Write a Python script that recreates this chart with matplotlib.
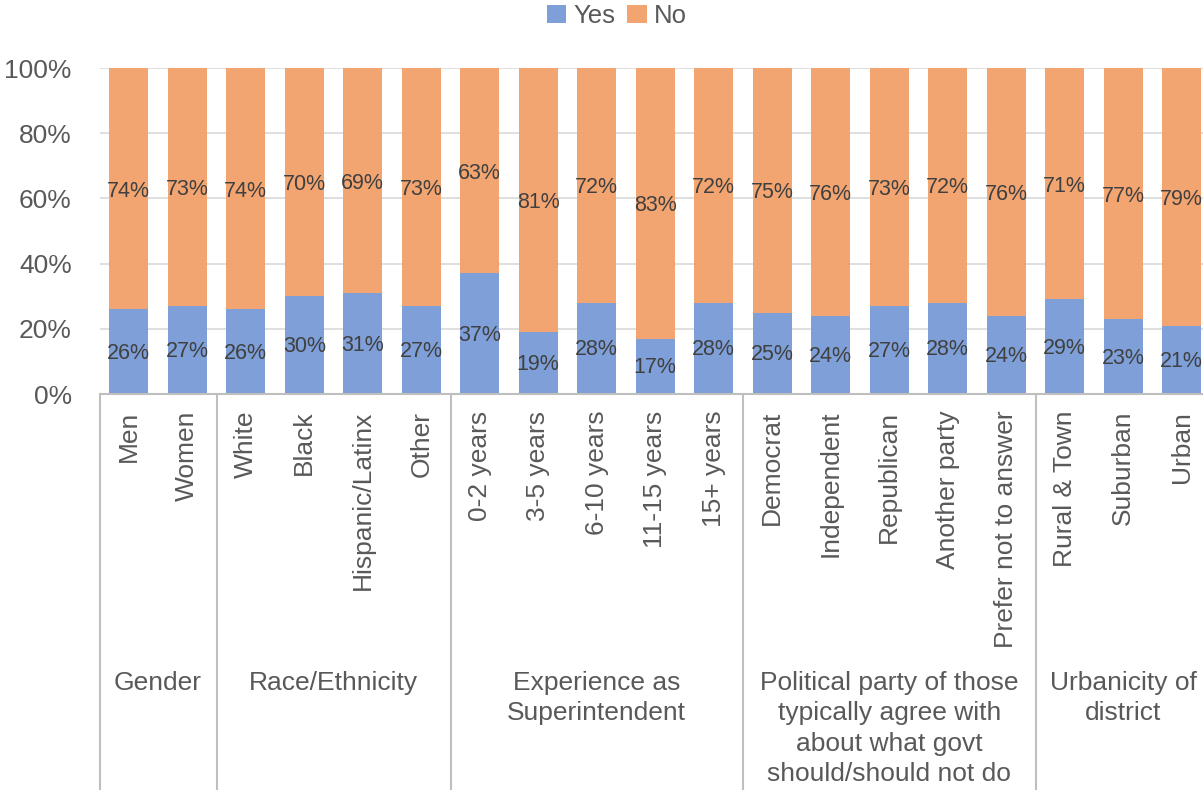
import matplotlib
matplotlib.use("Agg")
import matplotlib.pyplot as plt
import matplotlib.transforms as mtransforms

categories = ["Men", "Women", "White", "Black", "Hispanic/Latinx", "Other",
              "0-2 years", "3-5 years", "6-10 years", "11-15 years", "15+ years",
              "Democrat", "Independent", "Republican", "Another party", "Prefer not to answer",
              "Rural & Town", "Suburban", "Urban"]
yes_vals = [26, 27, 26, 30, 31, 27, 37, 19, 28, 17, 28, 25, 24, 27, 28, 24, 29, 23, 21]
no_vals = [74, 73, 74, 70, 69, 73, 63, 81, 72, 83, 72, 75, 76, 73, 72, 76, 71, 77, 79]
groups = ["Gender", "Race/Ethnicity", "Experience as\nSuperintendent",
          "Political party of those\ntypically agree with\nabout what govt\nshould/should not do",
          "Urbanicity of\ndistrict"]
group_sizes = [2, 4, 5, 5, 3]
yticks = [0, 20, 40, 60, 80, 100]

plt.rcParams['font.family'] = ['Liberation Sans', 'DejaVu Sans']
W, H = 1203, 790
fig = plt.figure(figsize=(W / 100, H / 100), dpi=100)
left_px, right_px, top_px, bot_px = 99.5, 1211, 68, 394
ax = fig.add_axes([left_px / W, 1 - bot_px / H, (right_px - left_px) / W, (bot_px - top_px) / H])

blue = "#7A9CD6"
orange = "#F2A26C"
txt = "#595959"
lab = "#404040"
x = list(range(len(categories)))
ax.bar(x, yes_vals, width=0.66, color=blue, label="Yes", zorder=2, alpha=0.97)
ax.bar(x, no_vals, width=0.66, bottom=yes_vals, color=orange, label="No", zorder=2, alpha=0.97)
for i, (y, n) in enumerate(zip(yes_vals, no_vals)):
    ax.text(i, y / 2 - 0.5, f"{y}%", ha="center", va="center", fontsize=15.5, color=lab, zorder=3)
    ax.text(i, y + n / 2 - 0.8, f"{n}%", ha="center", va="center", fontsize=15.5, color=lab, zorder=3)

ax.set_xlim(-0.5, len(categories) - 0.5)
ax.set_ylim(0, 100)
ax.set_yticks(yticks)
ax.set_yticklabels([f"{t}%" for t in yticks], fontsize=19, color=txt)
ax.tick_params(axis="y", length=0, pad=20)
ax.yaxis.grid(True, color="#D9D9D9", linewidth=1.2, zorder=0)
ax.set_axisbelow(True)
for s in ["top", "right", "left"]:
    ax.spines[s].set_visible(False)
ax.spines["bottom"].set_color("#BFBFBF")
ax.spines["bottom"].set_linewidth(1.5)
ax.spines["bottom"].set_zorder(4)

ax.set_xticks(x)
ax.set_xticklabels(categories, rotation=90, fontsize=19, color=txt, va="top", ha="center")
ax.tick_params(axis="x", length=0, pad=12)

trans = mtransforms.blended_transform_factory(ax.transData, ax.transAxes)
ybottom = -(H - bot_px) / (bot_px - top_px) - 0.05
start = 0
bounds = [-0.5]
for g, n in zip(groups, group_sizes):
    end = start + n
    bounds.append(end - 0.5)
    cx = (start + end - 1) / 2
    ax.text(cx, -(671 - bot_px) / (bot_px - top_px), g, transform=trans, ha="center", va="top",
            fontsize=19, color=txt, linespacing=1.33)
    start = end
for b in bounds:
    ax.plot([b, b], [0, ybottom], transform=trans, color="#BFBFBF", linewidth=1.5, clip_on=False)

handles, labels = ax.get_legend_handles_labels()
fig.legend(handles, labels, loc="center", bbox_to_anchor=(617 / W, 1 - 16 / H), ncol=2,
           frameon=False, fontsize=18.5, handlelength=0.75, handleheight=0.75,
           handletextpad=0.3, columnspacing=0.45, labelcolor=txt)

fig.savefig("out.png", dpi=100)
